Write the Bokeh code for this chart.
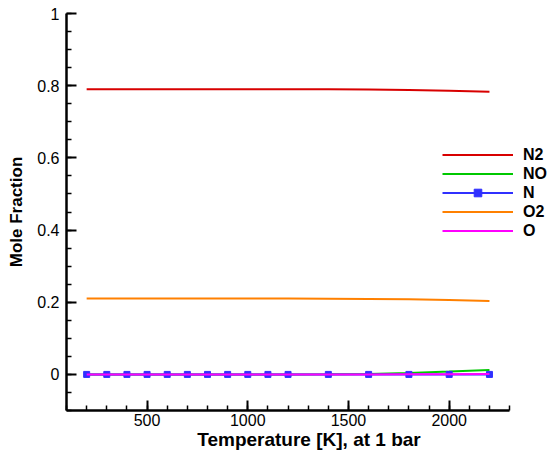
from bokeh.plotting import figure
from bokeh.models import Range1d, SingleIntervalTicker, Legend, LegendItem, ColumnDataSource
from bokeh.embed import file_html
from bokeh.resources import INLINE

T = [200, 300, 400, 500, 600, 700, 800, 900, 1000, 1100, 1200, 1400, 1600, 1800, 2000, 2200]
N2 = [0.790, 0.790, 0.790, 0.790, 0.790, 0.790, 0.790, 0.790, 0.790, 0.790, 0.790, 0.7898, 0.7892, 0.7878, 0.7858, 0.7834]
NO = [0.0, 0.0, 0.0, 0.0, 0.0, 0.0, 0.0, 0.0, 0.0, 0.0, 0.00002, 0.0003, 0.0014, 0.0040, 0.0080, 0.0125]
N = [0.0, 0.0, 0.0, 0.0, 0.0, 0.0, 0.0, 0.0, 0.0, 0.0, 0.0, 0.0, 0.0, 0.0, 0.0, 0.0]
O2 = [0.210, 0.210, 0.210, 0.210, 0.210, 0.210, 0.210, 0.210, 0.210, 0.210, 0.210, 0.2098, 0.2092, 0.2080, 0.2062, 0.2037]
O = [0.0, 0.0, 0.0, 0.0, 0.0, 0.0, 0.0, 0.0, 0.0, 0.0, 0.0, 0.0, 0.00002, 0.0001, 0.0003, 0.0008]

FONT = "Liberation Sans"

p = figure(width=551, height=458, output_backend="svg", toolbar_location=None,
           x_range=Range1d(100, 2508), y_range=Range1d(-0.1, 1.0),
           min_border_left=66, min_border_right=0, min_border_top=13, min_border_bottom=48)
p.outline_line_color = None
p.xgrid.visible = False
p.ygrid.visible = False
p.background_fill_color = "white"

src = ColumnDataSource(dict(T=T, N2=N2, NO=NO, N=N, O2=O2, O=O))

r_n2 = p.line("T", "N2", source=src, line_color="#d80000", line_width=2)
r_no = p.line("T", "NO", source=src, line_color="#00c800", line_width=2)
r_n = p.line("T", "N", source=src, line_color="#3030ff", line_width=2)
r_nm = p.scatter("T", "N", source=src, marker="square", size=6, fill_color="#3030ff", line_color="#3030ff")
r_o2 = p.line("T", "O2", source=src, line_color="#ff8000", line_width=2)
r_o = p.line("T", "O", source=src, line_color="#ff00ff", line_width=2)

for ax in (p.xaxis[0], p.yaxis[0]):
    ax.axis_line_width = 2.5
    ax.axis_line_color = "black"
    ax.major_tick_in = 10
    ax.major_tick_out = 0
    ax.minor_tick_in = 5
    ax.minor_tick_out = 0
    ax.major_tick_line_width = 2
    ax.minor_tick_line_width = 1.5
    ax.major_label_text_font = FONT
    ax.major_label_text_font_size = "16px"
    ax.major_label_text_color = "black"
    ax.axis_label_text_font = FONT
    ax.axis_label_text_font_style = "bold"
    ax.axis_label_text_color = "black"

p.xaxis[0].bounds = (100, 2300)
p.xaxis[0].ticker = SingleIntervalTicker(interval=500, num_minor_ticks=5)
p.yaxis[0].ticker = SingleIntervalTicker(interval=0.2, num_minor_ticks=4)
p.xaxis[0].axis_label = "Temperature [K], at 1 bar"
p.yaxis[0].axis_label = "Mole Fraction"
p.xaxis[0].axis_label_text_font_size = "19px"
p.yaxis[0].axis_label_text_font_size = "17px"
p.xaxis[0].major_label_standoff = 3
p.yaxis[0].major_label_standoff = 7
p.xaxis[0].axis_label_standoff = 0
p.yaxis[0].axis_label_standoff = 8

legend = Legend(items=[
    LegendItem(label="N2", renderers=[r_n2]),
    LegendItem(label="NO", renderers=[r_no]),
    LegendItem(label="N", renderers=[r_n, r_nm]),
    LegendItem(label="O2", renderers=[r_o2]),
    LegendItem(label="O", renderers=[r_o]),
], location=(376, 170))
legend.border_line_color = None
legend.background_fill_alpha = 0
legend.padding = 0
legend.margin = 0
legend.spacing = 0
legend.glyph_width = 71
legend.glyph_height = 19
legend.label_height = 19
legend.label_standoff = 10
legend.label_text_font = FONT
legend.label_text_font_size = "16px"
legend.label_text_font_style = "bold"
legend.label_text_color = "black"
p.add_layout(legend, "center")

open("out.html", "w").write(file_html(p, INLINE))
